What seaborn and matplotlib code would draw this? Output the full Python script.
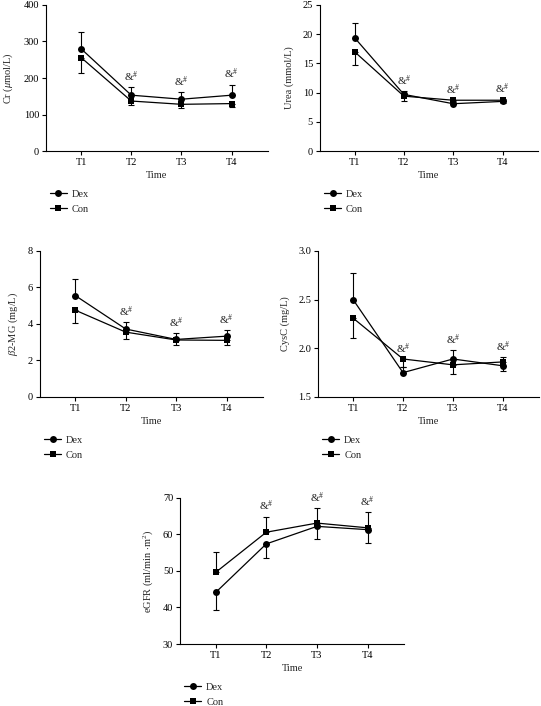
import numpy as np
import pandas as pd
import matplotlib
matplotlib.use("Agg")
import matplotlib.pyplot as plt
import seaborn as sns
from matplotlib.lines import Line2D

sns.set_theme(style="ticks")
plt.rcParams['font.family'] = ['Liberation Serif', 'DejaVu Serif']
plt.rcParams['mathtext.fontset'] = 'custom'
plt.rcParams['mathtext.rm'] = 'Liberation Serif'
plt.rcParams['mathtext.it'] = 'Liberation Serif:italic'

time_labels = ["T1", "T2", "T3", "T4"]
groups = ["Dex", "Con"]
annot_text = r"&$^{\#}$"
annot_points = [1, 2, 3]

# Cr (umol/L)
cr_dex = [280, 153, 142, 153]
cr_dex_err = [45, 22, 20, 29]
cr_con = [256, 137, 128, 130]
cr_con_err = [43, 12, 10, 8]

# Urea (mmol/L)
urea_dex = [19.4, 9.7, 8.1, 8.5]
urea_dex_err = [2.5, 0.6, 0.4, 0.4]
urea_con = [17.0, 9.4, 8.7, 8.7]
urea_con_err = [2.3, 0.8, 0.3, 0.5]

# beta2-MG (mg/L)
b2_dex = [5.55, 3.72, 3.15, 3.33]
b2_dex_err = [0.92, 0.38, 0.35, 0.33]
b2_con = [4.75, 3.55, 3.12, 3.10]
b2_con_err = [0.68, 0.38, 0.30, 0.25]

# CysC (mg/L)
cys_dex = [2.50, 1.75, 1.89, 1.82]
cys_dex_err = [0.27, 0.06, 0.09, 0.09]
cys_con = [2.31, 1.89, 1.83, 1.86]
cys_con_err = [0.20, 0.08, 0.09, 0.09]

# eGFR
egfr_dex = [44.1, 57.4, 62.2, 61.3]
egfr_dex_err = [4.9, 3.8, 3.5, 3.7]
egfr_con = [49.6, 60.6, 63.1, 61.8]
egfr_con_err = [5.5, 4.3, 4.0, 4.2]

panels = [
    dict(dex=cr_dex, dex_err=cr_dex_err, con=cr_con, con_err=cr_con_err,
         dex_dir=1, ylabel=r"Cr ($\mathit{\mu}$mol/L)", ylim=(0, 400), yticks=[0, 100, 200, 300, 400],
         fmt="{:.0f}", rect=[0.085, 0.786, 0.410, 0.207]),
    dict(dex=urea_dex, dex_err=urea_dex_err, con=urea_con, con_err=urea_con_err,
         dex_dir=1, ylabel="Urea (mmol/L)", ylim=(0, 25), yticks=[0, 5, 10, 15, 20, 25],
         fmt="{:.0f}", rect=[0.5915, 0.786, 0.403, 0.207]),
    dict(dex=b2_dex, dex_err=b2_dex_err, con=b2_con, con_err=b2_con_err,
         dex_dir=1, ylabel=r"$\mathit{\beta}$2-MG (mg/L)", ylim=(0, 8), yticks=[0, 2, 4, 6, 8],
         fmt="{:.0f}", rect=[0.074, 0.4377, 0.412, 0.207]),
    dict(dex=cys_dex, dex_err=cys_dex_err, con=cys_con, con_err=cys_con_err,
         dex_dir=1, ylabel="CysC (mg/L)", ylim=(1.5, 3.0), yticks=[1.5, 2.0, 2.5, 3.0],
         fmt="{:.1f}", rect=[0.588, 0.4377, 0.408, 0.207]),
    dict(dex=egfr_dex, dex_err=egfr_dex_err, con=egfr_con, con_err=egfr_con_err,
         dex_dir=-1, ylabel=r"eGFR (ml/min $\cdot$m$^2$)", ylim=(30, 70), yticks=[30, 40, 50, 60, 70],
         fmt="{:.0f}", rect=[0.333, 0.0878, 0.414, 0.207]),
]

fig = plt.figure(figsize=(5.41, 7.06), dpi=100)
fs = 7.5
x = np.arange(len(time_labels))

for p in panels:
    ax = fig.add_axes(p["rect"])
    df = pd.DataFrame({
        "x": np.concatenate([x, x]),
        "value": list(p["dex"]) + list(p["con"]),
        "group": ["Dex"] * 4 + ["Con"] * 4,
    })
    sns.lineplot(data=df, x="x", y="value", style="group", markers={"Dex": "o", "Con": "s"},
                 dashes=False, color="black", linewidth=0.9, markersize=5, markeredgewidth=0,
                 ax=ax, legend=False, zorder=3)
    dex = np.array(p["dex"]); con = np.array(p["con"])
    de = np.array(p["dex_err"]); ce = np.array(p["con_err"])
    z = np.zeros(4)
    if p["dex_dir"] > 0:
        dex_yerr = [z, de]; con_yerr = [ce, z]
        tops = np.maximum(dex + de, con)
    else:
        dex_yerr = [de, z]; con_yerr = [z, ce]
        tops = np.maximum(dex, con + ce)
    ax.errorbar(x, dex, yerr=dex_yerr, fmt="none", ecolor="black", elinewidth=0.8,
                capsize=2, capthick=0.8, zorder=2)
    ax.errorbar(x, con, yerr=con_yerr, fmt="none", ecolor="black", elinewidth=0.8,
                capsize=2, capthick=0.8, zorder=2)
    for i in annot_points:
        ax.annotate(annot_text, (x[i], tops[i]), xytext=(0, 7.5), textcoords="offset points",
                    ha="center", va="center", fontsize=fs + 0.5)
    ax.set_xlim(-0.7, 3.72)
    ax.set_ylim(*p["ylim"])
    ax.set_xticks(x)
    ax.set_xticklabels(time_labels, fontsize=fs)
    ax.set_yticks(p["yticks"])
    ax.set_yticklabels([p["fmt"].format(v) for v in p["yticks"]], fontsize=fs)
    ax.set_xlabel("Time", fontsize=fs, labelpad=3)
    ax.set_ylabel(p["ylabel"], fontsize=fs, labelpad=6)
    for s in ["top", "right"]:
        ax.spines[s].set_visible(False)
    for s in ["left", "bottom"]:
        ax.spines[s].set_linewidth(0.8)
        ax.spines[s].set_color("black")
    ax.tick_params(axis="both", length=3, width=0.8, color="black", pad=2, labelcolor="black")
    handles = [Line2D([], [], color="black", marker="o", markersize=5, linewidth=0.9, markeredgewidth=0),
               Line2D([], [], color="black", marker="s", markersize=5, linewidth=0.9, markeredgewidth=0)]
    ax.legend(handles, groups, loc="upper left", bbox_to_anchor=(0.0, -0.235), frameon=False,
              fontsize=fs, handlelength=1.6, handletextpad=0.5, labelspacing=0.55, borderaxespad=0)

fig.savefig("out.png", dpi=100, facecolor="white")
